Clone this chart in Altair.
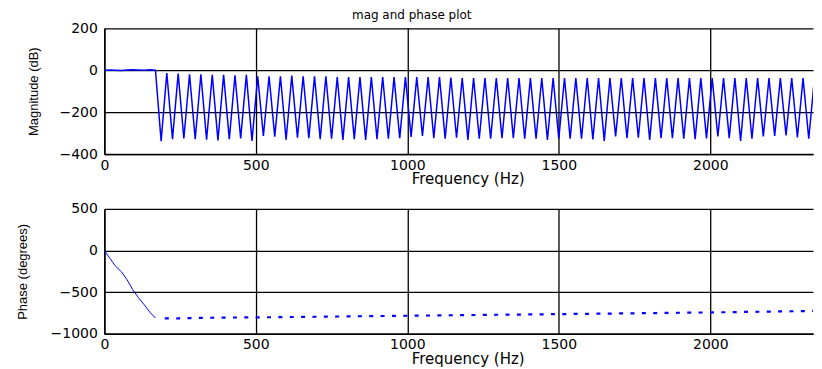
import altair as alt
import pandas as pd

# ---------------- data ----------------
FS = 4800          # sampling rate (Hz)
NFFT = 256         # FFT length -> 18.75 Hz bin spacing

# magnitude (dB) per FFT bin, k = 0 .. 127
mag_db = [
    0, 1, 0, -1, 1, 2, 1, 0, 2, 0,                                   # k0-9
    -338, -13, -329, -16, -326, -19, -329, -19, -332, -22,          # k10-19
    -335, -22, -329, -24, -326, -22, -337, -29, -314, -29,          # k20-29
    -317, -29, -332, -26, -322, -29, -324, -29, -329, -29,          # k30-39
    -327, -33, -332, -33, -329, -33, -332, -33, -329, -33,          # k40-49
    -327, -33, -324, -33, -318, -33, -314, -33, -324, -33,          # k50-59
    -327, -35, -322, -37, -332, -37, -327, -37, -327, -37,          # k60-69
    -324, -37, -324, -37, -327, -37, -327, -37, -332, -37,          # k70-79
    -327, -37, -327, -37, -327, -37, -330, -37, -337, -37,          # k80-89
    -316, -37, -324, -38, -322, -38, -332, -38, -324, -38,          # k90-99
    -324, -38, -327, -38, -329, -38, -325, -38, -316, -38,          # k100-109
    -324, -38, -337, -38, -327, -38, -316, -38, -313, -38,          # k110-119
    -311, -38, -321, -38, -327, -38, -300, -38,                     # k120-127
]

# phase (degrees), passband bins k = 0 .. 9 (solid)
phase_pass = [0, -95, -190, -255, -350, -470, -565, -650, -740, -812]

# phase (degrees), stopband bins k = 10 .. 127 (dotted)
phase_stop = [
    -815, -815, -818, -816, -814, -812, -810, -810, -808, -808, -806,   # k10-20
    -806, -805, -805, -804, -804, -803, -803, -802, -802, -801,         # k21-30
    -800, -800, -799, -798, -798, -797, -796, -795, -795, -794,         # k31-40
    -793, -792, -792, -791, -790, -790, -789, -788, -787, -786,         # k41-50
    -786, -785, -784, -784, -783, -782, -781, -781, -780, -779,         # k51-60
    -778, -778, -777, -776, -775, -775, -774, -773, -772, -772,         # k61-70
    -771, -770, -770, -769, -768, -767, -767, -766, -765, -764,         # k71-80
    -764, -763, -762, -762, -761, -760, -759, -759, -758, -757,         # k81-90
    -756, -756, -755, -754, -753, -752, -752, -751, -750, -749,         # k91-100
    -748, -748, -747, -746, -745, -744, -743, -742, -742, -741,         # k101-110
    -740, -739, -738, -737, -736, -735, -734, -733, -732, -731,         # k111-120
    -730, -729, -728, -727, -726, -725, -724,                           # k121-127
]

x_ticks = [0, 500, 1000, 1500, 2000]
mag_ticks = [-400, -200, 0, 200]
phase_ticks = [-1000, -500, 0, 500]
X_MAX = 2339

freq = [k * FS / NFFT for k in range(len(mag_db))]
mag_df = pd.DataFrame({"freq": freq, "mag": mag_db})
pass_df = pd.DataFrame({"freq": freq[:len(phase_pass)], "phase": phase_pass})
stop_df = pd.DataFrame({"freq": freq[len(phase_pass):len(phase_pass) + len(phase_stop)],
                        "phase": phase_stop})

W = 710
H_TOP = 126
H_BOT = 125
BLUE = "#0000ff"


def x_axis():
    return alt.Axis(
        values=x_ticks, format="d", title="Frequency (Hz)", grid=True, gridColor="black",
        gridWidth=1.3, gridOpacity=1, domainColor="black", domainWidth=1.5,
        ticks=False, tickSize=0, labelFlush=False, labelOverlap=False,
        labelFont="DejaVu Sans", labelFontSize=14, labelColor="black",
        labelPadding=15, labelBaseline="alphabetic",
        titleFont="DejaVu Sans", titleFontSize=15, titleFontWeight="normal",
        titleColor="black", titleBaseline="alphabetic", titleAlign="center",
        titleX=364, titleY=29.5,
    )


def y_axis(values, title, tx, ty):
    return alt.Axis(
        values=values, format="d", title=title, grid=True, gridColor="black",
        gridWidth=1.3, gridOpacity=1, domainColor="black", domainWidth=1.5,
        ticks=False, tickSize=0, labelOverlap=False,
        labelFont="DejaVu Sans", labelFontSize=14, labelColor="black",
        labelPadding=7, labelBaseline="middle",
        titleFont="Liberation Sans", titleFontSize=13, titleFontWeight="normal",
        titleColor="black", titleAngle=270, titleBaseline="middle",
        titleAlign="center", titleX=tx, titleY=ty,
    )


xenc = alt.X("freq:Q", scale=alt.Scale(domain=[0, X_MAX], nice=False, zero=False),
             axis=x_axis())

top = alt.Chart(mag_df).mark_line(color=BLUE, strokeWidth=1.5, clip=True).encode(
    x=xenc,
    y=alt.Y("mag:Q", scale=alt.Scale(domain=[-400, 200], nice=False),
            axis=y_axis(mag_ticks, "Magnitude (dB)", -71, H_TOP / 2)),
).properties(
    width=W, height=H_TOP,
    title=alt.TitleParams("mag and phase plot", font="DejaVu Sans", fontSize=12,
                          fontWeight="normal", color="black", anchor="middle",
                          dx=-47, offset=-1),
)

yph = alt.Y("phase:Q", scale=alt.Scale(domain=[-1000, 500], nice=False),
            axis=y_axis(phase_ticks, "Phase (degrees)", -82, H_BOT / 2))

ph_solid = alt.Chart(pass_df).mark_line(color=BLUE, strokeWidth=1, clip=True).encode(
    x=xenc, y=yph)
ph_dot = alt.Chart(stop_df).mark_line(
    color=BLUE, strokeWidth=2.2, clip=True, strokeDash=[4, 7.38], strokeDashOffset=7.69
).encode(x=xenc, y=yph)

bottom = alt.layer(ph_solid, ph_dot).properties(width=W, height=H_BOT)

chart = alt.vconcat(top, bottom, spacing=14).properties(
    padding={"left": 7.5, "top": 0, "right": 0, "bottom": 0},
    background="white",
).configure_view(stroke="transparent")

chart.save("out.html", embed_options={"renderer": "svg", "actions": False})
